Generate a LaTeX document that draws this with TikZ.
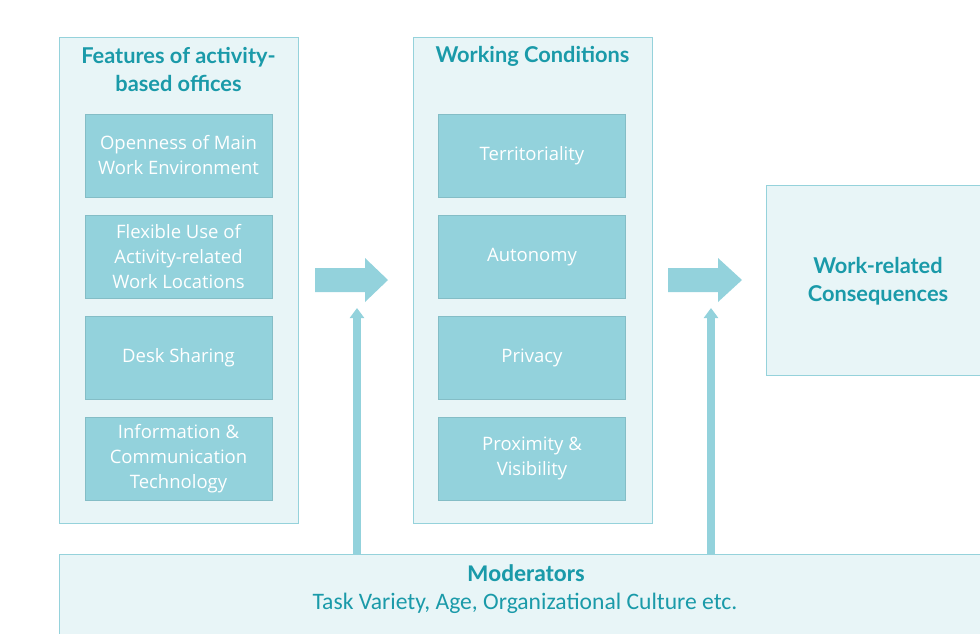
\documentclass[tikz,border=0pt]{standalone}
\usepackage{fontspec}
\setmainfont{Carlito}
\newfontfamily\titlefont{Lato}
\newfontfamily\tilefont{Open Sans}
\usetikzlibrary{arrows.meta}
\definecolor{panelfill}{HTML}{E8F5F7}
\definecolor{panelline}{HTML}{95D2DB}
\definecolor{tilefill}{HTML}{93D2DC}
\definecolor{headcol}{HTML}{1A9AA9}
\tikzset{
  panel/.style={draw=panelline, fill=panelfill, line width=0.8pt, minimum width=239pt, minimum height=486pt, inner sep=0pt},
  tile/.style={fill=tilefill, draw=tilefill!90!black, line width=0.3pt, minimum width=187pt, minimum height=83pt, text=white, align=center,
    font=\tilefont\fontsize{18.5}{25}\selectfont, inner sep=0pt},
  heading/.style={text=headcol, align=center, font=\titlefont\bfseries\fontsize{21.8}{27.5}\selectfont},
  uparrow/.style={draw=tilefill, line width=8pt, -{Triangle[width=14pt,length=10pt]}},
}
\begin{document}
\begin{tikzpicture}[x=1pt, y=-1pt]
	\useasboundingbox (0,0) rectangle (980,633);
	% Panels
	\node[panel] (features) at (178.5,280) {};
	\node[panel] (conditions) at (532.5,280) {};
	\node[panel, minimum width=234pt, minimum height=190pt] (consequences) at (883,280) {};
	\node[panel, minimum width=941pt, minimum height=96pt] (moderators) at (529.5,602) {};
	% Headings
	\node[heading] (featurestitle) at (178.5,69.5) {Features of activity-\\based offices};
	\node[heading] (conditionstitle) at (532.5,56) {Working Conditions};
	\node[heading] (consequencestitle) at (878,281) {Work-related\\Consequences};
	\node[heading, font=\bfseries\fontsize{24}{28}\selectfont] (modtitle) at (526,573) {Moderators};
	\node[text=headcol, font=\fontsize{23.6}{28}\selectfont, anchor=base] (modtext) at (525,609) {Task Variety, Age, Organizational Culture etc.};
	% Feature tiles
	\node[tile] (openness) at (178.5,155.5) {Openness of Main\\Work Environment};
	\node[tile] (flexible) at (178.5,257) {Flexible Use of\\Activity-related\\Work Locations};
	\node[tile] (desk) at (178.5,358) {Desk Sharing};
	\node[tile] (ict) at (178.5,458.5) {Information \&\\Communication\\Technology};
	% Condition tiles
	\node[tile] (territoriality) at (532,155.5) {Territoriality};
	\node[tile] (autonomy) at (532,257) {Autonomy};
	\node[tile] (privacy) at (532,358) {Privacy};
	\node[tile] (proximity) at (532,458.5) {Proximity \&\\Visibility};
	% Block arrows
	\fill[tilefill] (315,268) -- (365,268) -- (365,258) -- (388,280) -- (365,302) -- (365,292) -- (315,292) -- cycle;
	\fill[tilefill] (668,268) -- (718,268) -- (718,258) -- (742,280) -- (718,302) -- (718,292) -- (668,292) -- cycle;
	% Moderator arrows
	\coordinate (modtip1) at (357,308);
	\coordinate (modtip2) at (711,308);
	\draw[uparrow] (moderators.north -| modtip1) -- (modtip1);
	\draw[uparrow] (moderators.north -| modtip2) -- (modtip2);
\end{tikzpicture}
\end{document}
